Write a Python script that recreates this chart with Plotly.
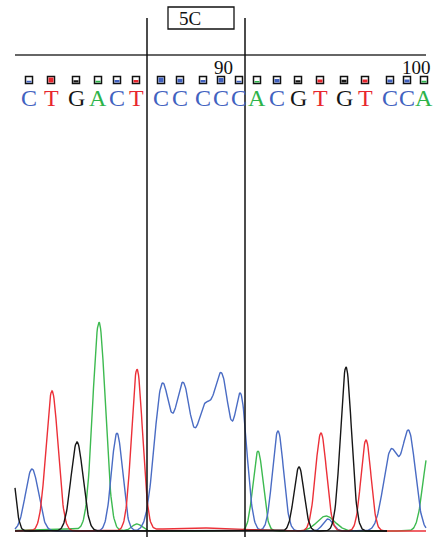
import numpy as np
import plotly.graph_objects as go

# Base calls, their scan positions and call quality (0..1)
bases = list("CTGACTCCCCCACGTGTCCA")
base_pos = [29, 51, 76, 98, 117, 136, 161, 180, 203, 221,
            239, 257, 277, 298, 320, 344, 365, 390, 407, 424]
quality = [0.35, 1.0, 0.45, 0.35, 0.5, 0.5, 1.0, 0.75, 0.5, 0.9,
           0.35, 0.3, 0.7, 0.45, 0.6, 0.55, 0.6, 0.6, 0.6, 0.35]
base_numbers = [90, 100]
number_pos = [223, 416]

# Chromatogram peaks per dye channel: scan centre, intensity, width
peaks_C_center = [32, 117, 162, 183, 204, 222, 241, 278, 328, 391, 409]
peaks_C_height = [62, 98, 143, 142, 110, 149, 128, 100, 12, 80, 96]
peaks_C_width = [6.5, 5.5, 7.8, 8.0, 7.8, 8.0, 6.0, 5.5, 5.0, 7.5, 6.5]

peaks_T_center = [52, 137, 200, 321, 366]
peaks_T_height = [140, 161, 3, 98, 91]
peaks_T_width = [6.0, 5.5, 40.0, 5.5, 5.0]

peaks_G_center = [10, 77, 299, 346]
peaks_G_height = [80, 89, 64, 164]
peaks_G_width = [4.5, 6.0, 5.0, 5.5]

peaks_A_center = [60, 99, 137, 258, 326, 429]
peaks_A_height = [2, 208, 7, 80, 15, 80]
peaks_A_width = [30.0, 6.3, 5.0, 5.0, 9.0, 6.0]

channel_colors = {"C": "#4a6cc4", "T": "#ec3038", "G": "#161616", "A": "#3dba50"}
letter_colors = {"C": "#4262c0", "T": "#e8262e", "G": "#161616", "A": "#2db34a"}

BASE_Y = 531  # baseline row; one y unit equals one pixel


def channel_signal(x, centers, heights, widths):
    y = np.zeros_like(x)
    for c, h, w in zip(centers, heights, widths):
        y += h * np.exp(-((x - c) ** 2) / (2 * w ** 2))
    return y


fig = go.Figure()

channels = [
    ("A", peaks_A_center, peaks_A_height, peaks_A_width, 426),
    ("C", peaks_C_center, peaks_C_height, peaks_C_width, 426),
    ("T", peaks_T_center, peaks_T_height, peaks_T_width, 426),
    ("G", peaks_G_center, peaks_G_height, peaks_G_width, 387),
]
for name, cen, hei, wid, x_end in channels:
    xs = np.arange(15, x_end + 0.01, 0.5)
    ys = channel_signal(xs, cen, hei, wid)
    fig.add_trace(go.Scatter(
        x=xs, y=ys, mode="lines", name=name,
        line=dict(color=channel_colors[name], width=1.4),
        hoverinfo="skip", showlegend=False,
    ))


def py(p):
    """Convert a row counted from the top into the y data unit."""
    return BASE_Y - p


shapes = []
# baseline under the traces
shapes.append(dict(type="line", x0=15, x1=387, y0=0, y1=0,
                   line=dict(color="#111111", width=1.6)))
# header rule
shapes.append(dict(type="line", x0=15, x1=426, y0=py(55), y1=py(55),
                   line=dict(color="#333333", width=1.5)))
# bracket around the inserted run
for xv in (147, 245):
    shapes.append(dict(type="line", x0=xv, x1=xv, y0=py(18), y1=py(537),
                       line=dict(color="#111111", width=1.5)))
shapes.append(dict(type="rect", x0=168, x1=234, y0=py(29), y1=py(7),
                   line=dict(color="#111111", width=1.3), fillcolor="white"))

# quality boxes above each base call
for b, xv, q in zip(bases, base_pos, quality):
    top, bot = py(76.5), py(83.5)
    inner_h = (top - bot) - 2.0
    shapes.append(dict(type="rect", x0=xv - 3.5, x1=xv + 3.5, y0=bot, y1=top,
                       line=dict(color="#111111", width=1.5), fillcolor="white"))
    shapes.append(dict(type="rect", x0=xv - 2.5, x1=xv + 2.5,
                       y0=bot + 1.0, y1=bot + 1.0 + inner_h * q,
                       line=dict(width=0), fillcolor=letter_colors[b]))

annotations = []
for b, xv in zip(bases, base_pos):
    annotations.append(dict(x=xv, y=py(98), text=b, showarrow=False,
                            xanchor="center", yanchor="middle",
                            font=dict(family="Liberation Serif", size=24,
                                      color=letter_colors[b])))
for n, xv in zip(base_numbers, number_pos):
    annotations.append(dict(x=xv, y=py(67), text=str(n), showarrow=False,
                            xanchor="center", yanchor="middle",
                            font=dict(family="Liberation Serif", size=19,
                                      color="#111111")))
annotations.append(dict(x=190, y=py(18), text="5C", showarrow=False,
                        xanchor="center", yanchor="middle",
                        font=dict(family="Liberation Serif", size=19,
                                  color="#111111")))

fig.update_layout(
    width=443, height=537,
    margin=dict(l=0, r=0, t=0, b=0),
    paper_bgcolor="white", plot_bgcolor="white",
    xaxis=dict(range=[0, 443], visible=False, fixedrange=True),
    yaxis=dict(range=[-6, 531], visible=False, fixedrange=True),
    shapes=shapes, annotations=annotations,
)

fig.write_html("out.html")
